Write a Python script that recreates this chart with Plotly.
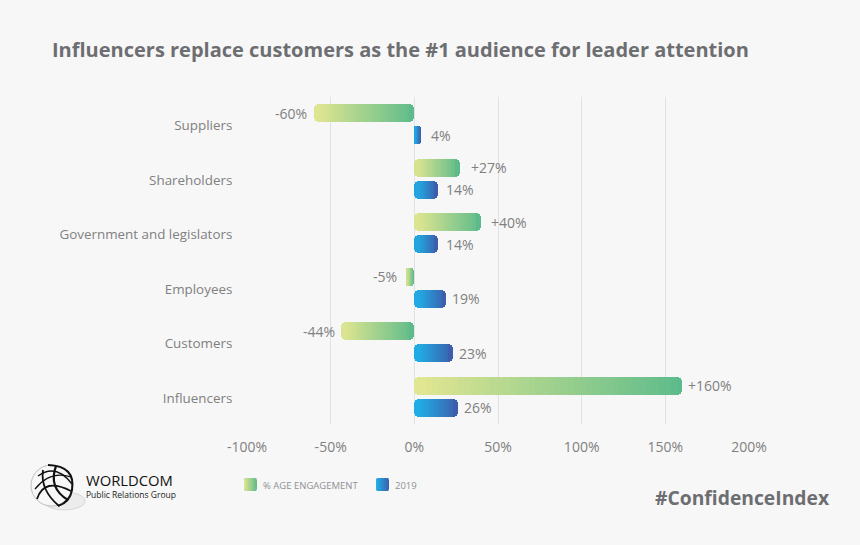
import plotly.graph_objects as go

categories = ["Influencers", "Customers", "Employees", "Government and legislators", "Shareholders", "Suppliers"]
engagement = [160, -44, -5, 40, 27, -60]
engagement_labels = ["+160%", "-44%", "-5%", "+40%", "+27%", "-60%"]
share_2019 = [26, 23, 19, 14, 14, 4]
share_labels = ["26%", "23%", "19%", "14%", "14%", "4%"]
tick_values = [-100, -50, 0, 50, 100, 150, 200]
tick_labels = ["-100%", "-50%", "0%", "50%", "100%", "150%", "200%"]

W, H = 860, 545
L, R, T, B = 247, 749, 97, 424
FONT = "Open Sans"
GREY = "#808080"
GREEN_STOPS = ((228, 231, 145), (93, 187, 139))
BLUE_STOPS = ((29, 182, 236), (60, 94, 172))
BAR_W = 0.33
GREEN_OFF = 0.036
BLUE_OFF = -0.366
RADIUS = 5
PX_PER_UNIT = (R - L) / 300
SLICES = 40
ENGAGEMENT_SHIFT = [4, -4, -7, 8, 9, -5]
SHARE_SHIFT = [4, 4, 4, 6, 6, 8]


def mix(stops, t):
    a, b = stops
    return "rgb(%d,%d,%d)" % tuple(round(a[i] + (b[i] - a[i]) * t) for i in range(3))


def px(x):
    return (x - L) / (R - L)


def py(y):
    return (B - y) / (B - T)


def add_series(fig, values, stops, offset):
    rows = list(range(len(values)))
    lows = [min(v, 0) for v in values]
    spans = [abs(v) for v in values]
    inset = RADIUS / PX_PER_UNIT
    starts = [min(inset, s * 0.2) for s in spans]
    common = dict(orientation="h", width=BAR_W, offset=offset, showlegend=False, hoverinfo="skip")
    # full rounded bar in the end colour, rounded start cap over it
    fig.add_trace(go.Bar(y=rows, x=spans, base=lows,
                         marker=dict(color=mix(stops, 1), cornerradius=RADIUS, line_width=0), **common))
    fig.add_trace(go.Bar(y=rows, x=[2 * st for st in starts], base=lows,
                         marker=dict(color=[mix(stops, st / sp) for st, sp in zip(starts, spans)],
                                     cornerradius=RADIUS, line_width=0), **common))
    ys, xs, bases, colors = [], [], [], []
    for r, span, lo, start in zip(rows, spans, lows, starts):
        inner = span - 2 * start
        for s in range(SLICES):
            t0 = s / SLICES
            ys.append(r)
            bases.append(lo + start + inner * t0)
            xs.append(inner * (1 - t0))
            colors.append(mix(stops, (start + inner * (s + 0.5) / SLICES) / span))
    # painter's order: each slice reaches to the bar's inner end, so no seams
    fig.add_trace(go.Bar(y=ys, x=xs, base=bases, marker=dict(color=colors, line_width=0), **common))


fig = go.Figure()
add_series(fig, engagement, GREEN_STOPS, GREEN_OFF)
add_series(fig, share_2019, BLUE_STOPS, BLUE_OFF)

annotations = []
for i, (v, lab, sh) in enumerate(zip(engagement, engagement_labels, ENGAGEMENT_SHIFT)):
    annotations.append(dict(x=v, y=i + GREEN_OFF + BAR_W / 2, xref="x", yref="y", text=lab, showarrow=False,
                            xanchor="right" if v < 0 else "left", xshift=sh,
                            font=dict(family=FONT, size=14, color=GREY)))
for i, (v, lab, sh) in enumerate(zip(share_2019, share_labels, SHARE_SHIFT)):
    annotations.append(dict(x=v, y=i + BLUE_OFF + BAR_W / 2, xref="x", yref="y", text=lab, showarrow=False,
                            xanchor="left", xshift=sh, font=dict(family=FONT, size=14, color=GREY)))


def page_text(x, y, text, size, color, anchor="left", bold=False, family=FONT):
    annotations.append(dict(x=px(x), y=py(y), xref="paper", yref="paper", text=f"<b>{text}</b>" if bold else text,
                            showarrow=False, xanchor=anchor, yanchor="middle",
                            font=dict(family=family, size=size, color=color), borderpad=0, borderwidth=0))


page_text(52, 50, "Influencers replace customers as the #1 audience for leader attention", 20, "#6d6e71", bold=True)
page_text(830, 497, "#ConfidenceIndex", 19.3, "#6d6e71", anchor="right", bold=True)
page_text(86, 480, "WORLDCOM", 14.8, "#111111")
page_text(86, 494, "Public Relations Group", 8.5, "#222222")
page_text(263, 485, "% AGE ENGAGEMENT", 9.5, "#8f9194")
page_text(395, 485, "2019", 9.5, "#8f9194")

shapes = []


def swatch(x0, x1, y0, y1, stops):
    n = 12
    r = 2
    shapes.append(dict(type="path", xref="paper", yref="paper", line_width=0, fillcolor=mix(stops, 0.5),
                       path=f"M{px(x0 + r)},{py(y0)} L{px(x1 - r)},{py(y0)} Q{px(x1)},{py(y0)} {px(x1)},{py(y0 + r)} "
                            f"L{px(x1)},{py(y1 - r)} Q{px(x1)},{py(y1)} {px(x1 - r)},{py(y1)} L{px(x0 + r)},{py(y1)} "
                            f"Q{px(x0)},{py(y1)} {px(x0)},{py(y1 - r)} L{px(x0)},{py(y0 + r)} Q{px(x0)},{py(y0)} {px(x0 + r)},{py(y0)} Z"))
    w = (x1 - x0) / n
    for k in range(n):
        inset = r if k in (0, n - 1) else 0
        shapes.append(dict(type="rect", xref="paper", yref="paper", line_width=0, fillcolor=mix(stops, (k + 0.5) / n),
                           x0=px(x0 + k * w), x1=px(x0 + k * w + w + (0.3 if k < n - 1 else 0)),
                           y0=py(y0 + inset), y1=py(y1 - inset)))


swatch(244, 257, 478, 491, GREEN_STOPS)
swatch(376, 389, 478, 491, BLUE_STOPS)


def curve(points, width, color):
    head = points[0]
    d = f"M{px(head[0])},{py(head[1])} "
    for c, e in points[1:]:
        d += f"Q{px(c[0])},{py(c[1])} {px(e[0])},{py(e[1])} "
    shapes.append(dict(type="path", xref="paper", yref="paper", path=d,
                       line=dict(color=color, width=width), fillcolor="rgba(0,0,0,0)"))


# logo: shadow ellipse and globe
shapes.append(dict(type="circle", xref="paper", yref="paper", x0=px(44), x1=px(85), y0=py(510), y1=py(492),
                   line=dict(color="#d8d8d8", width=1), fillcolor="#ececec"))
shapes.append(dict(type="circle", xref="paper", yref="paper", x0=px(31), x1=px(72), y0=py(506), y1=py(465),
                   line=dict(color="#999999", width=0.6), fillcolor="#f7f7f7"))
curve([(48, 465), ((76, 466), (72, 490)), ((70, 502), (58, 506))], 2, "#111111")
curve([(38, 476), ((56, 463), (72, 484))], 1.4, "#111111")
curve([(37, 499), ((44, 477), (71, 491))], 1.8, "#111111")
curve([(43, 470), ((40, 490), (59, 506))], 1.8, "#111111")
curve([(56, 466), ((48, 488), (68, 500))], 2.2, "#111111")
curve([(35, 489), ((50, 470), (71, 477))], 1.3, "#111111")

fig.update_layout(
    width=W, height=H, autosize=False, barmode="overlay", bargap=0,
    margin=dict(l=L, r=W - R, t=T, b=H - B, pad=0),
    paper_bgcolor="#f7f7f7", plot_bgcolor="#f7f7f7", showlegend=False,
    xaxis=dict(range=[-100, 200], tickvals=tick_values, ticktext=tick_labels, showgrid=True, gridcolor="#e2e2e2",
               gridwidth=1, zeroline=False, showline=False, ticks="outside", ticklen=10, tickcolor="rgba(0,0,0,0)",
               tickfont=dict(family=FONT, size=14, color=GREY), fixedrange=True),
    yaxis=dict(range=[-0.5, 5.5], tickvals=[i - 0.02 for i in range(len(categories))], ticktext=categories,
               showgrid=False, zeroline=False, showline=False, ticks="outside", ticklen=11, tickcolor="rgba(0,0,0,0)",
               tickfont=dict(family=FONT, size=13.4, color=GREY), fixedrange=True),
    annotations=annotations, shapes=shapes,
)

fig.write_html("out.html", config=dict(displayModeBar=False),
               post_script="document.body.style.margin='0';document.body.style.background='#f7f7f7';")
